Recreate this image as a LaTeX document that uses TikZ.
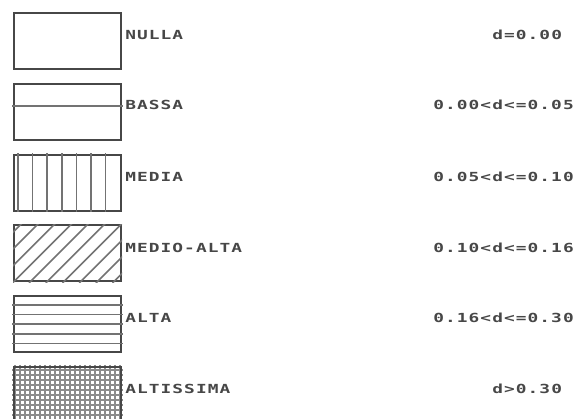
\documentclass[tikz,border=0pt]{standalone}
\usepackage{fontspec}
\newfontfamily\plotfont[LetterSpace=6]{DejaVu Sans Mono Bold}
\usetikzlibrary{positioning,calc}

\begin{document}
\begin{tikzpicture}[x=1pt,y=-1pt,line cap=rect,
  legbox/.style={draw=black!72,line width=2pt,minimum width=107pt,minimum height=56pt,inner sep=0pt},
  hatch/.style={black!55,line width=1.6pt},
  lab/.style={inner sep=0pt,text=black!72,font=\plotfont\fontsize{12.5}{12.5}\selectfont,xscale=1.425}]
\clip (0,0) rectangle (580,419);
\fill[white] (0,0) rectangle (580,419);
% legend boxes
\node[legbox,anchor=north west] (nulla) at (13,12) {};
\node[legbox,anchor=north west] (bassa) at (13,82.8) {};
\node[legbox,anchor=north west] (media) at (13,153.6) {};
\node[legbox,anchor=north west] (medioalta) at (13,224.4) {};
\node[legbox,anchor=north west] (alta) at (13,295.2) {};
\node[legbox,anchor=north west] (altissima) at (13,366) {};
% fills
\draw[hatch] ($(bassa.north west)!0.4!(bassa.south west)$) -- ($(bassa.north east)!0.4!(bassa.south east)$);
\foreach \k in {0,...,6}
  \draw[hatch] ([xshift={5+14.6*\k}]media.north west) -- ([xshift={5+14.6*\k}]media.south west);
\begin{scope}
\clip (medioalta.north west) rectangle (medioalta.south east);
\foreach \k in {-4,...,7}
  \draw[hatch] ([xshift={16.7*\k}]medioalta.south west) -- ++(60,-60);
\end{scope}
\foreach \k in {1,...,5}
  \draw[hatch] ($(alta.north west)!\k/6!(alta.south west)$) -- ($(alta.north east)!\k/6!(alta.south east)$);
\draw[black!45,line width=1.6pt,step=5pt] (altissima.north west) grid (altissima.south east);
\node[legbox,anchor=north west] at (13,366) {};
% class names
\node[lab,anchor=west] (n-nulla) at (125,35) {NULLA};
\node[lab,anchor=west] (n-bassa) at (125,104.5) {BASSA};
\node[lab,anchor=west] (n-media) at (125,176.5) {MEDIA};
\node[lab,anchor=west] (n-medioalta) at (125,247.5) {MEDIO-ALTA};
\node[lab,anchor=west] (n-alta) at (125,318) {ALTA};
\node[lab,anchor=west] (n-altissima) at (125,389) {ALTISSIMA};
% ranges
\node[lab,anchor=west] (r-nulla) at (492,35) {d=0.00};
\node[lab,anchor=west] (r-bassa) at (433,104.5) {0.00<d<=0.05};
\node[lab,anchor=west] (r-media) at (433,176.5) {0.05<d<=0.10};
\node[lab,anchor=west] (r-medioalta) at (433,247.5) {0.10<d<=0.16};
\node[lab,anchor=west] (r-alta) at (433,318) {0.16<d<=0.30};
\node[lab,anchor=west] (r-altissima) at (492,389) {d>0.30};
\end{tikzpicture}
\end{document}
